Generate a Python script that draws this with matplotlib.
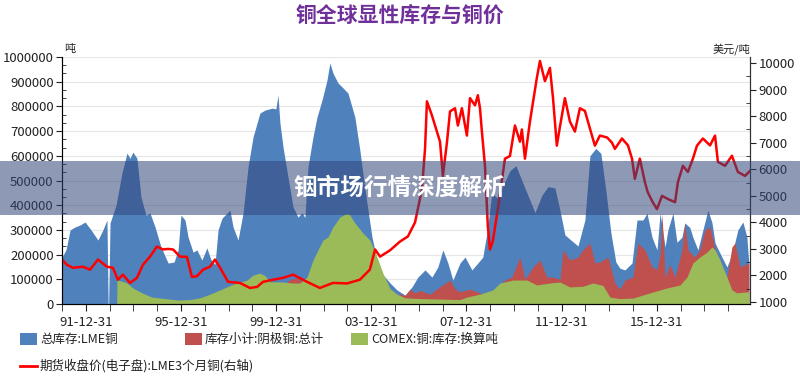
import matplotlib
matplotlib.use("Agg")
import matplotlib.pyplot as plt
from matplotlib.patches import Rectangle
from matplotlib.lines import Line2D
from matplotlib.ticker import FuncFormatter

plt.rcParams['font.family'] = ['Noto Sans CJK SC', 'DejaVu Sans']

# LME total stock (thousand tonnes)
lme_years = [1991.00, 1991.17, 1991.34, 1991.55, 1991.76, 1991.97, 1992.22, 1992.51, 1992.72, 1992.89,
             1992.94, 1992.96, 1993.02, 1993.27, 1993.52, 1993.73, 1993.86, 1993.98, 1994.15, 1994.32,
             1994.53, 1994.70, 1994.91, 1995.16, 1995.46, 1995.71, 1995.88, 1996.00, 1996.17, 1996.30,
             1996.51, 1996.67, 1996.88, 1997.09, 1997.26, 1997.43, 1997.56, 1997.73, 1998.06, 1998.19,
             1998.40, 1998.61, 1998.82, 1999.03, 1999.32, 1999.53, 1999.83, 1999.99, 2000.08, 2000.16,
             2000.29, 2000.50, 2000.71, 2000.92, 2001.09, 2001.21, 2001.34, 2001.55, 2001.72, 2001.93,
             2002.14, 2002.26, 2002.39, 2002.60, 2002.77, 2003.02, 2003.31, 2003.52, 2003.74, 2004.03,
             2004.24, 2004.45, 2004.58, 2004.79, 2005.08, 2005.42, 2005.71, 2005.96, 2006.26, 2006.55,
             2006.80, 2007.01, 2007.22, 2007.43, 2007.73, 2007.94, 2008.23, 2008.48, 2008.69, 2008.86,
             2009.07, 2009.28, 2009.54, 2009.83, 2010.08, 2010.33, 2010.67, 2010.88, 2011.17, 2011.43,
             2011.72, 2011.93, 2012.14, 2012.44, 2012.69, 2012.98, 2013.19, 2013.44, 2013.65, 2013.86,
             2014.07, 2014.28, 2014.45, 2014.66, 2014.96, 2015.17, 2015.42, 2015.59, 2015.80, 2016.01,
             2016.14, 2016.35, 2016.47, 2016.68, 2016.85, 2017.06, 2017.18, 2017.39, 2017.52, 2017.73,
             2017.94, 2018.15, 2018.32, 2018.45, 2018.74, 2018.95, 2019.16, 2019.41, 2019.62, 2019.79,
             2019.87]
lme_stock = [190, 220, 300, 312, 320, 332, 300, 259, 300, 340,
             0, 0, 328, 400, 530, 611, 590, 615, 590, 433,
             360, 368, 312, 231, 166, 170, 219, 360, 340, 271,
             210, 219, 178, 227, 180, 160, 300, 348, 380, 312,
             259, 368, 555, 676, 773, 785, 793, 790, 846, 733,
             636, 514, 393, 352, 370, 350, 555, 676, 757, 826,
             907, 976, 935, 895, 879, 854, 757, 623, 461, 271,
             178, 120, 109, 85, 57, 36, 69, 109, 138, 109,
             150, 219, 166, 97, 166, 190, 138, 166, 190, 287,
             450, 430, 480, 540, 560, 500, 420, 370, 440, 475,
             470, 380, 280, 255, 235, 340, 600, 630, 610, 460,
             290, 170, 145, 138, 166, 340, 340, 368, 271, 219,
             368, 231, 300, 368, 250, 271, 328, 310, 270, 219,
             300, 380, 330, 247, 190, 150, 200, 300, 332, 271,
             166]

# cathode copper stock subtotal (thousand tonnes)
cath_years = [1999.00, 1999.74, 2000.29, 2000.58, 2000.92, 2001.21, 2001.51, 2002.26, 2003.10, 2003.94,
              2004.79, 2005.21, 2005.42, 2005.63, 2005.84, 2006.05, 2006.47, 2006.89, 2007.31, 2007.52,
              2007.73, 2008.15, 2008.57, 2008.86, 2009.20, 2009.62, 2009.91, 2010.25, 2010.46, 2010.80,
              2011.09, 2011.38, 2011.59, 2011.93, 2012.06, 2012.35, 2012.69, 2012.90, 2013.19, 2013.40,
              2013.61, 2013.95, 2014.24, 2014.45, 2014.66, 2015.00, 2015.21, 2015.50, 2015.80, 2016.01,
              2016.14, 2016.22, 2016.35, 2016.56, 2016.77, 2017.06, 2017.18, 2017.31, 2017.60, 2017.81,
              2018.03, 2018.24, 2018.45, 2018.74, 2018.95, 2019.16, 2019.29, 2019.50, 2019.71, 2019.87]
cath_stock = [30, 40, 70, 100, 105, 80, 60, 50, 40, 30,
              20, 40, 35, 60, 45, 55, 40, 70, 97, 60,
              50, 60, 45, 30, 60, 97, 110, 190, 100, 150,
              178, 109, 110, 100, 219, 178, 190, 219, 247, 166,
              170, 190, 85, 60, 97, 109, 247, 219, 150, 140,
              200, 368, 109, 160, 109, 219, 328, 219, 190, 219,
              300, 312, 219, 150, 109, 231, 247, 150, 160, 166]

# COMEX copper stock, converted to thousand tonnes
comex_years = [1993.30, 1993.31, 1993.52, 1993.73, 1993.98, 1994.36, 1994.78, 1995.33, 1995.88, 1996.38,
               1996.80, 1997.22, 1997.64, 1998.19, 1998.78, 1999.03, 1999.32, 1999.53, 1999.74, 2000.29,
               2000.67, 2001.00, 2001.30, 2001.55, 2001.76, 2001.97, 2002.18, 2002.39, 2002.68, 2002.98,
               2003.10, 2003.31, 2003.65, 2003.94, 2004.24, 2004.49, 2004.79, 2005.08, 2005.42, 2006.05,
               2006.89, 2007.73, 2008.02, 2008.57, 2009.11, 2009.41, 2009.96, 2010.54, 2010.96, 2011.51,
               2011.93, 2012.35, 2012.90, 2013.32, 2013.74, 2014.03, 2014.45, 2015.00, 2015.71, 2016.43,
               2016.98, 2017.27, 2017.52, 2017.81, 2018.11, 2018.32, 2018.45, 2018.66, 2018.95, 2019.16,
               2019.37, 2019.62, 2019.87]
comex_stock = [0, 97, 92, 85, 65, 45, 28, 22, 16, 18,
               25, 40, 57, 80, 97, 117, 125, 115, 90, 89,
               85, 85, 109, 178, 219, 259, 271, 312, 352, 368,
               360, 328, 287, 259, 190, 125, 62, 40, 25, 22,
               20, 18, 28, 40, 57, 85, 97, 97, 77, 85,
               89, 69, 72, 85, 75, 28, 22, 24, 45, 65,
               77, 109, 166, 190, 210, 231, 219, 178, 109, 57,
               45, 48, 49]

# LME 3-month copper close (USD/t)
price_years = [1991.00, 1991.21, 1991.46, 1991.88, 1992.18, 1992.51, 1992.89, 1993.14, 1993.35, 1993.56,
               1993.86, 1994.15, 1994.40, 1994.70, 1994.99, 1995.24, 1995.46, 1995.67, 1995.96, 1996.25,
               1996.46, 1996.67, 1996.93, 1997.22, 1997.43, 1997.64, 1997.98, 1998.48, 1998.90, 1999.20,
               1999.45, 1999.87, 2000.29, 2000.71, 2001.00, 2001.30, 2001.84, 2002.39, 2002.98, 2003.52,
               2003.94, 2004.16, 2004.37, 2004.79, 2005.21, 2005.54, 2005.84, 2006.13, 2006.26, 2006.34,
               2006.55, 2006.68, 2006.89, 2007.01, 2007.18, 2007.31, 2007.52, 2007.64, 2007.81, 2008.02,
               2008.15, 2008.36, 2008.48, 2008.57, 2008.65, 2008.78, 2008.90, 2008.99, 2009.11, 2009.32,
               2009.62, 2009.83, 2010.04, 2010.25, 2010.33, 2010.46, 2010.67, 2010.96, 2011.09, 2011.30,
               2011.51, 2011.64, 2011.80, 2011.93, 2012.14, 2012.35, 2012.56, 2012.77, 2012.98, 2013.19,
               2013.40, 2013.61, 2013.91, 2014.12, 2014.24, 2014.54, 2014.79, 2014.96, 2015.08, 2015.29,
               2015.50, 2015.62, 2015.83, 2016.01, 2016.22, 2016.47, 2016.77, 2016.89, 2017.10, 2017.31,
               2017.52, 2017.69, 2017.94, 2018.24, 2018.45, 2018.57, 2018.87, 2019.16, 2019.41, 2019.71,
               2019.92]
price = [2600, 2400, 2290, 2330, 2220, 2600, 2330, 2290, 1840, 2030,
         1720, 1910, 2400, 2710, 3090, 2980, 3000, 2980, 2710, 2700,
         1950, 1970, 2220, 2330, 2600, 2300, 1760, 1720, 1530, 1570,
         1760, 1840, 1910, 2030, 1900, 1760, 1530, 1720, 1700, 1840,
         2220, 2980, 2710, 2950, 3280, 3470, 4000, 5250, 6770, 8560,
         8030, 7650, 7040, 5750, 7000, 8180, 8300, 7650, 8300, 7270,
         8680, 8410, 8790, 8300, 7420, 6130, 3850, 2980, 3300, 4500,
         6400, 6500, 7650, 7040, 7500, 6400, 7800, 9440, 10080, 9320,
         9820, 8680, 6890, 7600, 8680, 7800, 7420, 8300, 8200, 7540,
         6890, 7270, 7200, 7000, 6770, 7160, 6900, 6400, 5640, 6400,
         5520, 5140, 4760, 4500, 5000, 4880, 4760, 5520, 6130, 5900,
         6400, 6890, 7160, 6900, 7270, 6280, 6130, 6510, 5900, 5750,
         5940]

tick_years = [1992, 1996, 2000, 2004, 2008, 2012, 2016]
tick_labels = ['91-12-31', '95-12-31', '99-12-31', '03-12-31', '07-12-31', '11-12-31', '15-12-31']

c_blue = '#4F81BD'
c_red = '#C0504D'
c_green = '#9BBB59'

fig = plt.figure(figsize=(8, 3.77), dpi=100)
ax = fig.add_axes([0.0775, 0.1936, 0.86, 0.6552])

ax.fill_between(lme_years, [v * 1000 for v in lme_stock], color=c_blue, lw=0)
ax.fill_between(cath_years, [v * 1000 for v in cath_stock], color=c_red, lw=0)
ax.fill_between(comex_years, [v * 1000 for v in comex_stock], color=c_green, lw=0)

ax.set_xlim(1991.0, 2019.92)
ax.set_ylim(0, 1000000)
ax.set_yticks(range(0, 1000001, 100000))
ax.set_yticks([i * 100000 / 3 for i in range(31)], minor=True)
ax.yaxis.set_major_formatter(FuncFormatter(lambda v, p: f'{int(round(v))}'))
ax.tick_params(axis='y', which='major', direction='out', length=4, pad=2, labelsize=9.5, colors='#222222')
ax.tick_params(axis='y', which='minor', direction='in', length=3, color='#222222')
ax.set_xticks(range(1991, 2020), minor=True)
ax.set_xticks(tick_years)
ax.set_xticklabels(tick_labels)
ax.tick_params(axis='x', which='both', direction='out', length=5, labelsize=9.5, colors='#222222')
ax.grid(axis='y', color='#e6e6e6', lw=0.8)
ax.set_axisbelow(True)
ax.spines['top'].set_visible(False)
for s in ['left', 'right', 'bottom']:
    ax.spines[s].set_color('#333333')

ax2 = ax.twinx()
ax2.plot(price_years, price, color='#FF0000', lw=1.8)
ax2.set_ylim(925, 10230)
ax2.set_yticks(range(1000, 10001, 1000))
ax2.set_yticks(range(1000, 10001, 500), minor=True)
ax2.tick_params(axis='y', which='major', direction='out', length=4, pad=2, labelsize=9.5, colors='#222222')
ax2.tick_params(axis='y', which='minor', direction='in', length=3, color='#222222')
ax2.spines['top'].set_visible(False)
ax2.spines['right'].set_color('#333333')

fig.text(64 / 800, 1 - 49 / 377, '吨', fontsize=8, ha='left', va='center', color='#222222')
fig.text(750 / 800, 1 - 49 / 377, '美元/吨', fontsize=8, ha='right', va='center', color='#222222')

fig.text(0.5, 1 - 15 / 377, '铜全球显性库存与铜价', fontsize=15, fontweight='bold',
         color='#70309A', ha='center', va='center')

# legend drawn by hand to keep the layout of the original
def legend_patch(x, y, color, label):
    fig.patches.append(Rectangle((x / 800, 1 - (y + 6) / 377), 17 / 800, 12 / 377,
                                 transform=fig.transFigure, facecolor=color, edgecolor='none'))
    fig.text((x + 20) / 800, 1 - y / 377, label, fontsize=9, ha='left', va='center', color='#222222')

legend_patch(20, 339, c_blue, '总库存:LME铜')
legend_patch(185, 339, c_red, '库存小计:阴极铜:总计')
legend_patch(351, 339, c_green, 'COMEX:铜:库存:换算吨')
fig.lines.append(Line2D([20 / 800, 37 / 800], [1 - 366 / 377, 1 - 366 / 377],
                        transform=fig.transFigure, color='#FF0000', lw=2))
fig.text(40 / 800, 1 - 366 / 377, '期货收盘价(电子盘):LME3个月铜(右轴)', fontsize=9,
         ha='left', va='center', color='#222222')

# banner overlay
fig.patches.append(Rectangle((0, 1 - 215 / 377), 1, 54 / 377, transform=fig.transFigure,
                             facecolor='#32467A', alpha=0.55, edgecolor='none', zorder=10))
fig.text(0.5, 1 - 188 / 377, '铟市场行情深度解析', fontsize=17, fontweight='bold',
         color='white', ha='center', va='center', zorder=11)

plt.savefig('out.png', dpi=100)
